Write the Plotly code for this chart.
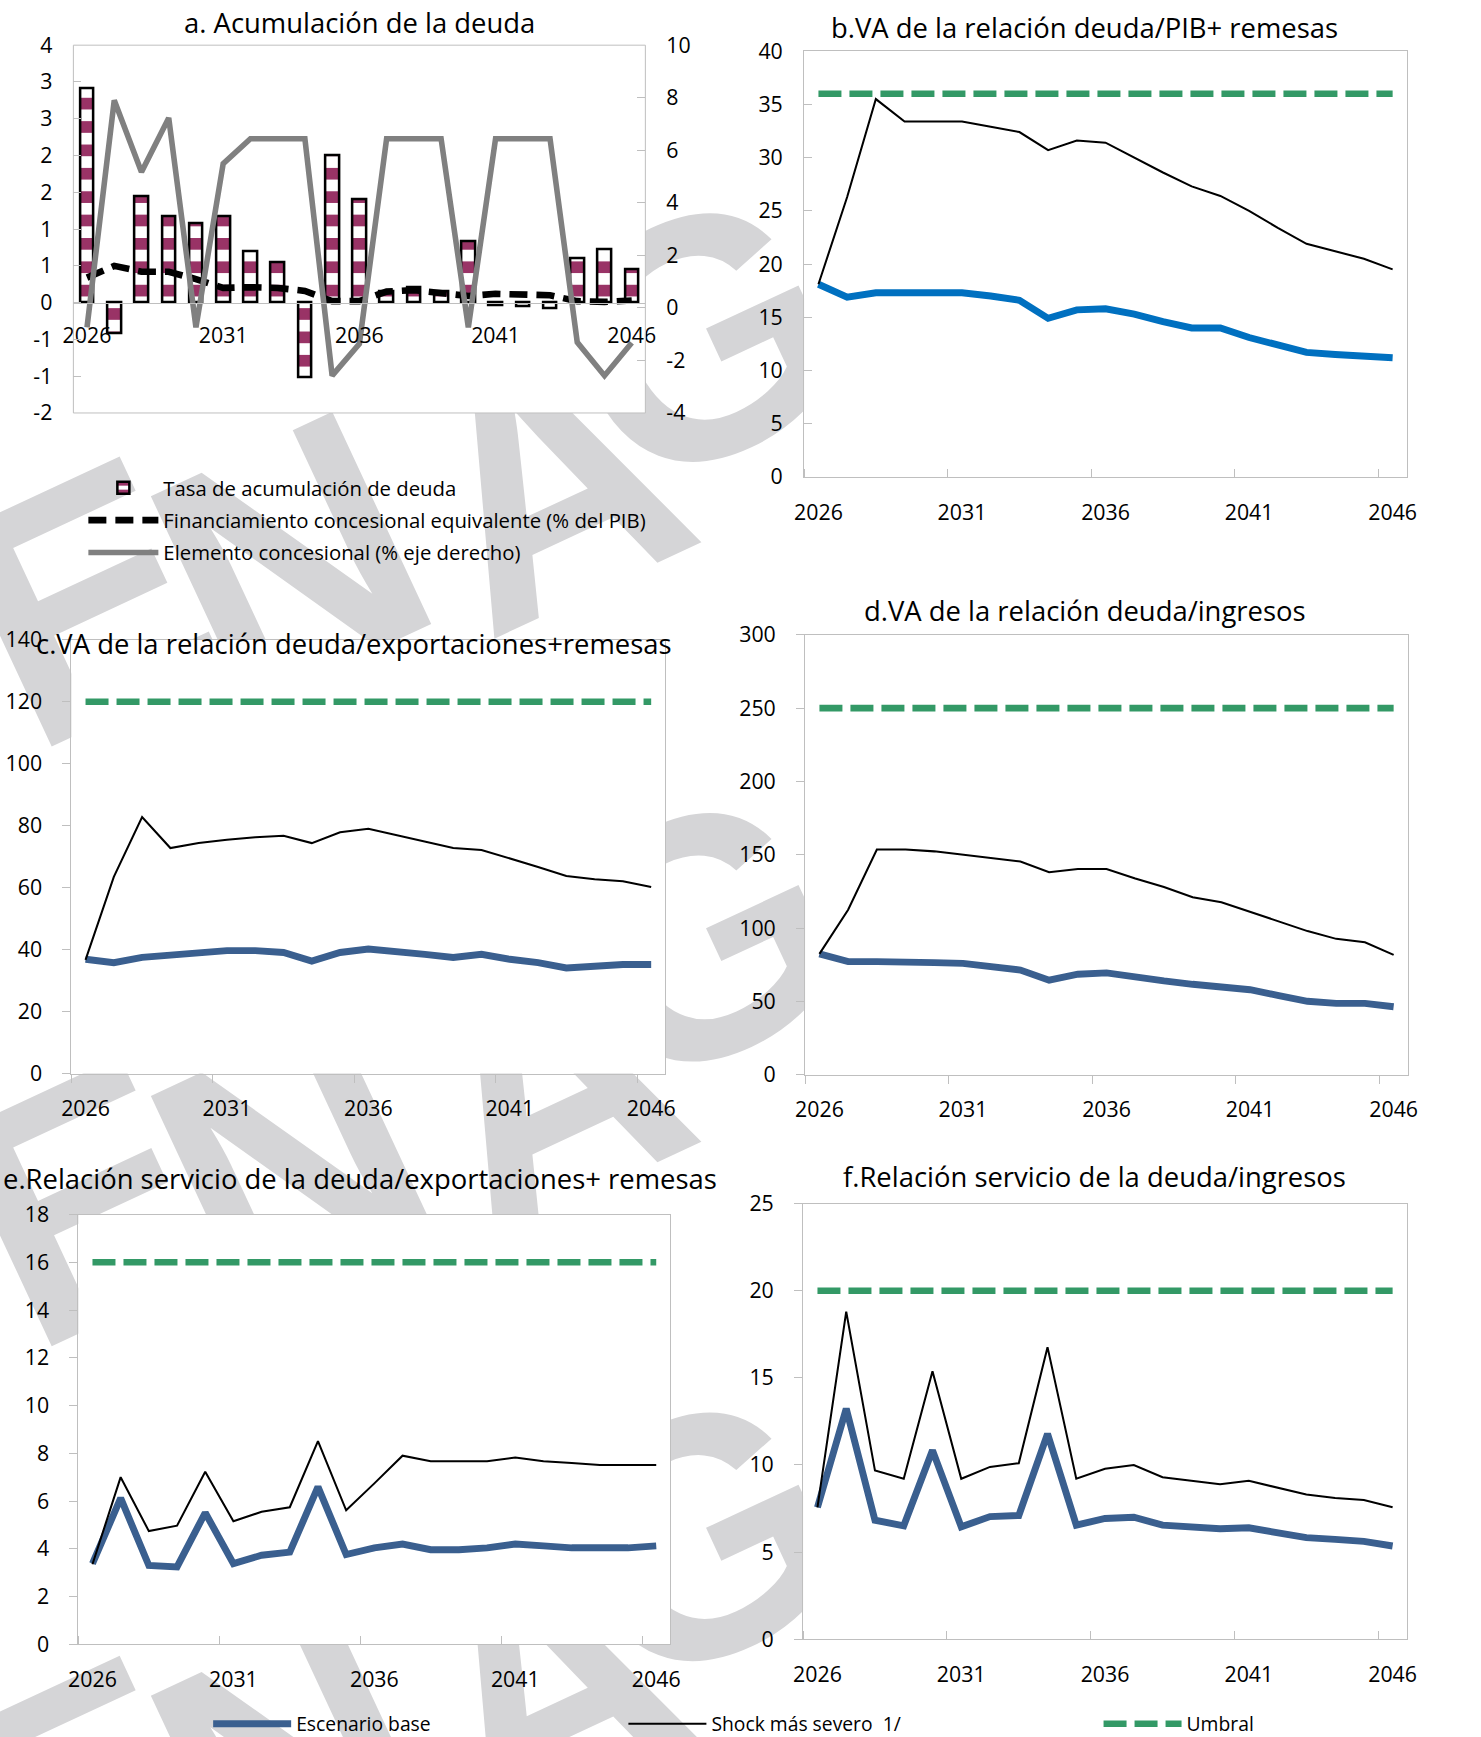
import math
import plotly.graph_objects as go

# Layout positions are given in page pixels of a 1481 x 1737 page.  The page
# shows the figure slightly reduced and inset, so positions and sizes are
# converted with the factors ESC_X / ESC_Y and the inset (OX, OY).
PAGE_W, PAGE_H = 1481, 1737
ESC_X, ESC_Y = 0.987, 0.984
OX, OY = 10.5, 13.8
W = math.ceil((PAGE_W - OX) / ESC_X)
H = math.ceil((PAGE_H - OY) / ESC_Y)

# ---------------------------------------------------------------- data
anios = list(range(2026, 2047))
etiquetas_x = ["2026", "2031", "2036", "2041", "2046"]
valores_x = [2026, 2031, 2036, 2041, 2046]

# a. Acumulación de la deuda
tasa_acumulacion = [2.91, -0.41, 1.45, 1.17, 1.08, 1.17, 0.70, 0.55, -1.01, 2.00, 1.41,
                    0.16, 0.21, 0.15, 0.84, -0.04, -0.05, -0.08, 0.60, 0.72, 0.45]
financiamiento_concesional = [0.34, 0.50, 0.42, 0.42, 0.32, 0.20, 0.21, 0.20, 0.16, 0.02, 0.02,
                              0.15, 0.17, 0.12, 0.09, 0.12, 0.11, 0.10, 0.02, 0.01, 0.03]
elemento_concesional = [-0.74, 7.90, 5.17, 7.23, -0.74, 5.49, 6.44, 6.44, 6.44, -2.58, -1.37,
                        6.44, 6.44, 6.44, -0.74, 6.44, 6.44, 6.44, -1.31, -2.58, -1.33]
ticks_a_izq = [-1.5, -1.0, -0.5, 0.0, 0.5, 1.0, 1.5, 2.0, 2.5, 3.0, 3.5]
etiquetas_a_izq = ["-2", "-1", "-1", "0", "1", "1", "2", "2", "3", "3", "4"]
ticks_a_der = [-4, -2, 0, 2, 4, 6, 8, 10]
etiquetas_a_der = ["-4", "-2", "0", "2", "4", "6", "8", "10"]

# b. VA de la relación deuda/PIB + remesas
base_b = [18.1, 16.9, 17.3, 17.3, 17.3, 17.3, 17.0, 16.6, 14.9, 15.7, 15.8,
          15.3, 14.6, 14.0, 14.0, 13.1, 12.4, 11.7, 11.5, 11.4, 11.2]
shock_b = [18.1, 26.3, 35.5, 33.4, 33.4, 33.4, 32.9, 32.4, 30.7, 31.6, 31.4,
           30.0, 28.6, 27.3, 26.4, 25.0, 23.4, 21.9, 21.2, 20.5, 19.5]
umbral_b = 36

# c. VA de la relación deuda/exportaciones + remesas
base_c = [36.9, 35.8, 37.5, 38.1, 39.2, 39.7, 39.7, 39.1, 36.3, 39.1, 40.2,
          39.6, 38.5, 37.5, 38.5, 36.9, 35.8, 34.1, 34.7, 35.2, 35.2]
shock_c = [36.7, 63.5, 82.8, 72.8, 74.4, 75.5, 76.3, 76.8, 74.4, 77.9, 79.0,
           76.9, 74.9, 72.8, 72.2, 69.5, 66.7, 63.8, 62.7, 62.1, 60.2]
umbral_c = 120

# d. VA de la relación deuda/ingresos
base_d = [82.4, 77.1, 77.1, 77.1, 76.4, 75.9, 73.6, 71.3, 64.4, 68.5, 69.4,
          66.2, 63.9, 61.6, 60.2, 57.9, 53.9, 50.0, 48.6, 48.6, 46.3]
shock_d = [82.4, 112.5, 153.5, 153.5, 152.3, 150.0, 147.7, 145.4, 138.0, 140.3, 140.3,
           133.8, 128.0, 121.0, 117.6, 111.1, 104.2, 97.9, 92.6, 90.3, 81.7]
umbral_d = 250

# e. Relación servicio de la deuda/exportaciones + remesas
base_e = [3.38, 6.12, 3.30, 3.24, 5.51, 3.38, 3.73, 3.86, 6.59, 3.76, 4.04,
          4.20, 3.96, 3.96, 4.04, 4.20, 4.12, 4.04, 4.04, 4.04, 4.12]
shock_e = [3.35, 7.00, 4.74, 4.97, 7.23, 5.15, 5.55, 5.74, 8.51, 5.61, 6.74,
           7.90, 7.67, 7.67, 7.67, 7.82, 7.67, 7.59, 7.51, 7.51, 7.51]
umbral_e = 16

# f. Relación servicio de la deuda/ingresos
base_f = [7.57, 13.23, 6.83, 6.51, 10.84, 6.45, 7.04, 7.10, 11.79, 6.55, 6.93,
          7.00, 6.55, 6.45, 6.34, 6.40, 6.09, 5.83, 5.73, 5.62, 5.35]
shock_f = [7.57, 18.80, 9.68, 9.21, 15.38, 9.21, 9.89, 10.10, 16.76, 9.21, 9.78,
           10.00, 9.30, 9.09, 8.90, 9.09, 8.69, 8.30, 8.10, 7.99, 7.57]
umbral_f = 20

# background watermark letters, repeated down the page
marca_letras = ["E", "N", "A", "G"]


# ---------------------------------------------------------------- helpers
def px(x):
    return (x - OX) / ESC_X / W


def py(y):
    return 1 - (y - OY) / ESC_Y / H


def fs(size):
    """Size in page pixels -> figure pixels."""
    return size / ESC_Y


def dominio(x0, x1, y0, y1):
    """Page box (left, right, top, bottom) -> paper domains."""
    return [px(x0), px(x1)], [py(y1), py(y0)]


# ---------------------------------------------------------------- style
FONT = "Open Sans"
AZUL_B = "#0070C0"
AZUL = "#3A5F8F"
VERDE = "#339966"
GRANATE = "#993366"
GRIS = "#808080"
MARCO = "#BFBFBF"
MARCA = "#D5D5D7"
TICK_FONT = dict(family=FONT, size=fs(21), color="black")

cajas = {
    "a": (73, 646, 43, 411),
    "b": (805, 1409, 49, 475),
    "c": (71, 666, 638, 1072),
    "d": (806, 1410, 633, 1073),
    "e": (78, 671, 1213, 1643),
    "f": (804, 1409, 1202, 1638),
}

fig = go.Figure()

# ---------------------------------------------------------------- panel a
fig.add_trace(go.Bar(
    x=anios, y=tasa_acumulacion, width=0.5, xaxis="x", yaxis="y",
    name="Tasa de acumulación de deuda", legend="legend2", legendgroup="a1",
    marker=dict(color="white", line=dict(color="black", width=fs(2.5)),
                pattern=dict(shape="-", fgcolor=GRANATE, bgcolor="white",
                             size=fs(23), solidity=0.5, fillmode="replace")),
))
fig.add_trace(go.Scatter(
    x=anios, y=financiamiento_concesional, mode="lines", xaxis="x", yaxis="y",
    name="Financiamiento concesional equivalente (% del PIB)", legend="legend2",
    legendgroup="a2", line=dict(color="black", width=fs(6.5), dash="18px,9px"),
))
fig.add_trace(go.Scatter(
    x=anios, y=elemento_concesional, mode="lines", xaxis="x", yaxis="y7",
    name="Elemento concesional (% eje derecho)", legend="legend2",
    legendgroup="a3", line=dict(color=GRIS, width=fs(5.5)),
))

# ---------------------------------------------------------------- panels b-f
paneles = [
    ("b", "x2", "y2", base_b, shock_b, umbral_b, AZUL_B),
    ("c", "x3", "y3", base_c, shock_c, umbral_c, AZUL),
    ("d", "x4", "y4", base_d, shock_d, umbral_d, AZUL),
    ("e", "x5", "y5", base_e, shock_e, umbral_e, AZUL),
    ("f", "x6", "y6", base_f, shock_f, umbral_f, AZUL),
]
for clave, xa, ya, base, shock, umbral, color_base in paneles:
    leyenda = clave == "e"
    fig.add_trace(go.Scatter(
        x=anios, y=[umbral] * len(anios), mode="lines", xaxis=xa, yaxis=ya,
        name="Umbral", legend="legend4", showlegend=leyenda,
        line=dict(color=VERDE, width=fs(6.5), dash="23px,8px"),
    ))
    fig.add_trace(go.Scatter(
        x=anios, y=base, mode="lines", xaxis=xa, yaxis=ya,
        name="Escenario base", legend="legend", showlegend=leyenda,
        line=dict(color=color_base, width=fs(6.8)),
    ))
    fig.add_trace(go.Scatter(
        x=anios, y=shock, mode="lines", xaxis=xa, yaxis=ya,
        name="Shock más severo\u00a0 1/", legend="legend3", showlegend=leyenda,
        line=dict(color="black", width=fs(2)),
    ))

# ---------------------------------------------------------------- axes
layout = dict(
    width=W, height=H, autosize=False,
    margin=dict(l=0, r=0, t=0, b=0),
    paper_bgcolor="white", plot_bgcolor="white",
    font=dict(family=FONT, size=fs(19), color="black"),
    bargap=0,
)

rangos_y = {
    "b": ([0, 40], 5),
    "c": ([0, 140], 20),
    "d": ([0, 300], 50),
    "e": ([0, 18], 2),
    "f": ([0, 25], 5),
}
ticks_x = {"b": "inside", "c": "outside", "d": "outside", "e": "inside", "f": "inside"}
ticks_y = {"b": "inside", "c": "outside", "d": "outside", "e": "outside", "f": "outside"}

# panel a: category axis sits on the zero line of the left scale
dx, dy = dominio(*cajas["a"])
rango_a = [-1.5, 3.5]
pos_cero = dy[0] + (0 - rango_a[0]) / (rango_a[1] - rango_a[0]) * (dy[1] - dy[0])
layout["xaxis"] = dict(
    domain=dx, anchor="free", position=pos_cero, range=[2025.5, 2046.5],
    tickmode="array", tickvals=valores_x, ticktext=etiquetas_x, ticks="",
    showline=True, linecolor=MARCO, linewidth=1, showgrid=False, zeroline=False,
    tickfont=TICK_FONT, ticklabelstandoff=14,
)
layout["yaxis"] = dict(
    domain=dy, anchor="x", range=rango_a, tickmode="array",
    tickvals=ticks_a_izq, ticktext=etiquetas_a_izq, ticks="inside", ticklen=8,
    tickcolor=MARCO, showline=False, showgrid=False, zeroline=False,
    tickfont=TICK_FONT, ticklabelstandoff=20,
)
layout["yaxis7"] = dict(
    overlaying="y", side="right", anchor="x", range=[-4, 10], tickmode="array",
    tickvals=ticks_a_der, ticktext=etiquetas_a_der, ticks="inside", ticklen=8,
    tickcolor=MARCO, showline=False, showgrid=False, zeroline=False,
    tickfont=TICK_FONT, ticklabelstandoff=20,
)

for i, clave in enumerate(["b", "c", "d", "e", "f"], start=2):
    dx, dy = dominio(*cajas[clave])
    rango, paso = rangos_y[clave]
    layout[f"xaxis{i}"] = dict(
        domain=dx, anchor=f"y{i}", range=[2025.5, 2046.5],
        tickmode="array", tickvals=valores_x, ticktext=etiquetas_x, ticks="",
        minor=dict(tickmode="array", tickvals=[2025.5, 2030.5, 2035.5, 2040.5, 2045.5],
                   ticks=ticks_x[clave], ticklen=8, tickcolor=MARCO, tickwidth=1),
        showline=True, mirror=True, linecolor=MARCO, linewidth=1,
        showgrid=False, zeroline=False, tickfont=TICK_FONT, ticklabelstandoff=16,
    )
    layout[f"yaxis{i}"] = dict(
        domain=dy, anchor=f"x{i}", range=rango, dtick=paso, tick0=0,
        ticks=ticks_y[clave], ticklen=8, tickcolor=MARCO,
        showline=True, mirror=True, linecolor=MARCO, linewidth=1,
        showgrid=False, zeroline=False, tickfont=TICK_FONT, ticklabelstandoff=16,
    )

fig.update_layout(**layout)

# ---------------------------------------------------------------- watermark
# big grey letters behind the charts; white plot areas hide them inside each panel
centros_marca = [(70, 570), (277, 528), (535, 452), (687, 306)]
for fila in range(3):
    for letra, (cx, cy) in zip(marca_letras, centros_marca):
        cy = cy + 600 * fila
        fig.add_shape(
            type="rect", xref="paper", yref="paper", layer="below",
            x0=px(cx - 5), x1=px(cx + 5), y0=py(cy + 5), y1=py(cy - 5),
            line=dict(width=0), fillcolor="rgba(0,0,0,0)",
            label=dict(text=letra, textangle=-25, textposition="middle center",
                       font=dict(family="Liberation Sans", size=fs(335), color=MARCA,
                                 weight="bold")),
        )

for eje in ["", "2", "3", "4", "5", "6"]:
    fig.add_shape(type="rect", xref=f"x{eje} domain", yref=f"y{eje} domain",
                  x0=0, x1=1, y0=0, y1=1, layer="below",
                  line=dict(width=0), fillcolor="white")

# frame of panel a
fig.add_shape(type="rect", xref="x domain", yref="y domain", x0=0, x1=1, y0=0, y1=1,
              line=dict(color=MARCO, width=1), fillcolor="rgba(0,0,0,0)", layer="above")

# ---------------------------------------------------------------- titles
titulos = [
    ("a. Acumulación de la deuda", 360, 20),
    ("b.VA de la relación deuda/PIB+ remesas", 1086, 25),
    ("c.VA de la relación deuda/exportaciones+remesas", 354, 642),
    ("d.VA de la relación deuda/ingresos", 1086, 609),
    ("e.Relación servicio de la deuda/exportaciones+ remesas", 360, 1177),
    ("f.Relación servicio de la deuda/ingresos", 1096, 1175),
]
for texto, cx, cy in titulos:
    fig.add_annotation(text=texto, x=px(cx), y=py(cy), xref="paper", yref="paper",
                       xanchor="center", yanchor="middle", showarrow=False,
                       font=dict(family=FONT, size=fs(27), color="black"))

# ---------------------------------------------------------------- legends
fig.update_layout(
    legend2=dict(x=px(83), y=py(466), xanchor="left", yanchor="top",
                 orientation="v", itemwidth=70, tracegroupgap=3,
                 font=dict(family=FONT, size=fs(20)), bgcolor="rgba(0,0,0,0)"),
    legend=dict(x=px(208), y=py(1723), xanchor="left", yanchor="middle",
                orientation="h", itemwidth=78,
                font=dict(family=FONT, size=fs(19)), bgcolor="rgba(0,0,0,0)"),
    legend3=dict(x=px(624), y=py(1723), xanchor="left", yanchor="middle",
                 orientation="h", itemwidth=78,
                 font=dict(family=FONT, size=fs(19)), bgcolor="rgba(0,0,0,0)"),
    legend4=dict(x=px(1100), y=py(1723), xanchor="left", yanchor="middle",
                 orientation="h", itemwidth=78,
                 font=dict(family=FONT, size=fs(19)), bgcolor="rgba(0,0,0,0)"),
)

fig.write_html("out.html")
